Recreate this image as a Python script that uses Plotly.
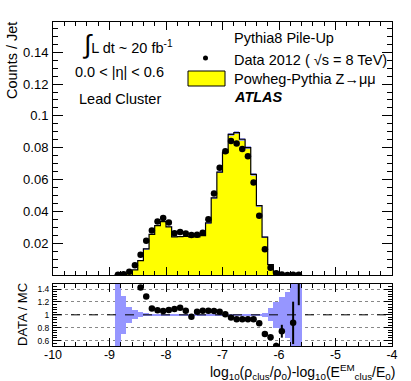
import plotly.graph_objects as go

# ---------------- data ----------------
bin_centers = [-8.85, -8.75, -8.65, -8.55, -8.45, -8.35, -8.25, -8.15, -8.05, -7.95,
               -7.85, -7.75, -7.65, -7.55, -7.45, -7.35, -7.25, -7.15, -7.05, -6.95,
               -6.85, -6.75, -6.65, -6.55, -6.45, -6.35, -6.25, -6.15, -6.05, -5.95,
               -5.85, -5.75, -5.65]
bin_width = 0.1

data_counts = [0.0002, 0.0005, 0.0021, 0.0061, 0.0128, 0.0215, 0.0280, 0.0337, 0.0358, 0.0330,
               0.0263, 0.0270, 0.0261, 0.0251, 0.0253, 0.0265, 0.0350, 0.0512, 0.0674, 0.0777,
               0.0842, 0.0826, 0.0792, 0.0747, 0.0581, 0.0373, 0.0162, 0.0046, 0.0011, 0.0003,
               0.0000, 0.0001, 0.0001]

mc_counts = [0.0001, 0.0003, 0.0008, 0.0032, 0.0090, 0.0164, 0.0255, 0.0310, 0.0335, 0.0303,
             0.0239, 0.0241, 0.0242, 0.0240, 0.0239, 0.0247, 0.0327, 0.0485, 0.0646, 0.0769,
             0.0884, 0.0895, 0.0853, 0.0800, 0.0632, 0.0436, 0.0238, 0.0065, 0.0017, 0.0004,
             0.0001, 0.0001, 0.00005]

mc_rel_err = [1.0, 0.30, 0.12, 0.07, 0.04, 0.025, 0.018, 0.015, 0.013, 0.013,
              0.013, 0.013, 0.013, 0.013, 0.013, 0.012, 0.011, 0.010, 0.010, 0.010,
              0.010, 0.010, 0.010, 0.010, 0.012, 0.015, 0.03, 0.10, 0.20, 0.27,
              0.36, 0.60, 1.0]

ratio_vals = [None, None, None, None, 1.425, 1.284, 1.10, 1.07, 1.06, 1.075,
              1.09, 1.11, 1.065, 0.97, 1.05, 1.065, 1.065, 1.06, 1.05, 1.01,
              0.96, 0.93, 0.93, 0.93, 0.93, 0.87, 0.70, 0.65, 0.515, 0.745,
              None, 0.875, 1.80]
ratio_errs = [0, 0, 0, 0, 0.01, 0.01, 0.005, 0.005, 0.005, 0.005,
              0.005, 0.005, 0.005, 0.005, 0.005, 0.005, 0.005, 0.005, 0.005, 0.005,
              0.005, 0.005, 0.005, 0.005, 0.005, 0.01, 0.02, 0.03, 0.05, 0.10,
              0, 0.33, 0.65]

main_tick_vals = [0.02, 0.04, 0.06, 0.08, 0.10, 0.12, 0.14]
main_tick_text = ["0.02", "0.04", "0.06", "0.08", "0.1", "0.12", "0.14"]
ratio_tick_vals = [0.6, 0.8, 1.0, 1.2, 1.4]
ratio_tick_text = ["0.6", "0.8", "1", "1.2", "1.4"]
x_tick_vals = [-10, -9, -8, -7, -6, -5, -4]
x_tick_text = ["-10", "-9", "-8", "-7", "-6", "-5", "-4"]

# ---------------- derived ----------------
half = bin_width / 2
step_x = [bin_centers[0] - half] + [c - half for c in bin_centers] + [bin_centers[-1] + half, bin_centers[-1] + half]
step_y = [0] + list(mc_counts) + [mc_counts[-1], 0]

band_base = [m * (1 - e) for m, e in zip(mc_counts, mc_rel_err)]
band_h = [2 * m * e for m, e in zip(mc_counts, mc_rel_err)]
rband_base = [1 - e for e in mc_rel_err]
rband_h = [2 * e for e in mc_rel_err]

FONT = "Liberation Sans, Arial, sans-serif"
BAND = "rgb(150,150,255)"

fig = go.Figure()
fig.add_trace(go.Bar(x=bin_centers, y=mc_counts, width=bin_width, marker=dict(color="#ffff00", line=dict(width=0)),
                     xaxis="x", yaxis="y", showlegend=False))
fig.add_trace(go.Bar(x=bin_centers, y=band_h, base=band_base, width=bin_width,
                     marker=dict(color="rgba(150,150,255,0.85)", line=dict(width=0)),
                     xaxis="x", yaxis="y", showlegend=False))
fig.add_trace(go.Scatter(x=step_x, y=step_y, mode="lines", line=dict(color="black", width=1.2, shape="hv"),
                         xaxis="x", yaxis="y", showlegend=False))
fig.add_trace(go.Scatter(x=bin_centers, y=data_counts, mode="markers",
                         marker=dict(color="black", size=6.5), xaxis="x", yaxis="y", showlegend=False))

# ratio panel
fig.add_trace(go.Bar(x=bin_centers, y=rband_h, base=rband_base, width=bin_width,
                     marker=dict(color=BAND, line=dict(width=0)), xaxis="x2", yaxis="y2", showlegend=False))
fig.add_trace(go.Scatter(x=[-10, -4], y=[1, 1], mode="lines", line=dict(color="black", width=1, dash="dash"),
                         xaxis="x2", yaxis="y2", showlegend=False, hoverinfo="skip"))
fig.add_trace(go.Scatter(x=bin_centers, y=ratio_vals, mode="markers",
                         marker=dict(color="black", size=6.5),
                         error_y=dict(type="data", array=ratio_errs, color="black", thickness=2, width=0),
                         xaxis="x2", yaxis="y2", showlegend=False))

# ---------------- layout ----------------
L, R, T, B = 53, 19, 22, 35
W, H = 411, 381
PW, PH = W - L - R, H - T - B


def pxx(x):
    return (x - L) / PW


def pxy(y):
    return (H - B - y) / PH


axis_common = dict(showline=True, linecolor="black", linewidth=1, mirror="ticks", ticks="inside",
                   showgrid=False, zeroline=False, tickcolor="black")

fig.update_layout(
    width=W, height=H, margin=dict(l=L, r=R, t=T, b=B),
    paper_bgcolor="white", plot_bgcolor="white", barmode="overlay", bargap=0,
    font=dict(family=FONT, color="black"),
    xaxis=dict(domain=[0, 1], range=[-10, -4], anchor="y", showticklabels=False,
               tickvals=x_tick_vals, ticklen=8,
               minor=dict(dtick=0.2, tick0=0, ticklen=4, ticks="inside", tickcolor="black"),
               **axis_common),
    yaxis=dict(domain=[pxy(275), 1], range=[0, 0.159], anchor="x",
               tickvals=main_tick_vals, ticktext=main_tick_text, ticklen=10,
               tickfont=dict(size=13), ticklabelstandoff=1,
               minor=dict(dtick=0.005, tick0=0, ticklen=5, ticks="inside", tickcolor="black"),
               **axis_common),
    xaxis2=dict(domain=[0, 1], range=[-10, -4], anchor="y2",
                tickvals=x_tick_vals, ticktext=x_tick_text, ticklen=8, tickfont=dict(size=12.5),
                ticklabelstandoff=-3,
                minor=dict(dtick=0.2, tick0=0, ticklen=4, ticks="inside", tickcolor="black"),
                **axis_common),
    yaxis2=dict(domain=[0, pxy(284)], range=[0.515, 1.48], anchor="x2",
                tickvals=ratio_tick_vals, ticktext=ratio_tick_text, ticklen=8, tickfont=dict(size=8.5),
                ticklabelstandoff=1,
                minor=dict(dtick=0.04, tick0=0, ticklen=4, ticks="inside", tickcolor="black"),
                showline=True, linecolor="black", linewidth=1, mirror="ticks", ticks="inside",
                showgrid=True, gridcolor="#888888", griddash="dot", gridwidth=1, zeroline=False,
                tickcolor="black"),
)

ann = []


def text(x, y, s, size=14.5, anchor="left", yanchor="middle", **kw):
    ann.append(dict(x=pxx(x), y=pxy(y), xref="paper", yref="paper", text=s, showarrow=False,
                    xanchor=anchor, yanchor=yanchor, font=dict(size=size, family=FONT, color="black"), **kw))


text(80, 44, "<span style='font-size:26px'>∫</span>L dt ~ 20 fb<sup>-1</sup>")
text(73, 72, "0.0 < |η| < 0.6")
text(77, 99, "Lead Cluster")
text(232, 38, "Pythia8 Pile-Up")
text(232, 60, "Data 2012 ( √s = 8 TeV)")
text(232, 79, "Powheg-Pythia Z→μμ")
text(232, 97, "<b><i>ATLAS</i></b>")
text(396, 383, "log<sub>10</sub>(ρ<sub>clus</sub>/ρ<sub>0</sub>)-log<sub>10</sub>(E<sup>EM</sup><sub>clus</sub>/E<sub>0</sub>)",
     size=14, anchor="right", yanchor="bottom", borderpad=0)
ann.append(dict(x=pxx(12), y=pxy(61), xref="paper", yref="paper", text="Counts / Jet", showarrow=False,
                textangle=-90, xanchor="center", yanchor="middle", font=dict(size=14.5, family=FONT, color="black")))
ann.append(dict(x=pxx(22), y=pxy(315), xref="paper", yref="paper", text="DATA / MC", showarrow=False,
                textangle=-90, xanchor="center", yanchor="middle", font=dict(size=13, family=FONT, color="black")))
fig.update_layout(annotations=ann)

fig.update_layout(shapes=[
    dict(type="rect", xref="paper", yref="paper", x0=pxx(188), x1=pxx(225), y0=pxy(86), y1=pxy(71),
         fillcolor="#ffff00", line=dict(color="black", width=1)),
    dict(type="circle", xref="paper", yref="paper", x0=pxx(203), x1=pxx(208), y0=pxy(60.5), y1=pxy(55.5),
         fillcolor="black", line=dict(color="black", width=0)),
])

fig.write_html("out.html", post_script="document.body.style.margin='0';",
               config={"displayModeBar": False})
